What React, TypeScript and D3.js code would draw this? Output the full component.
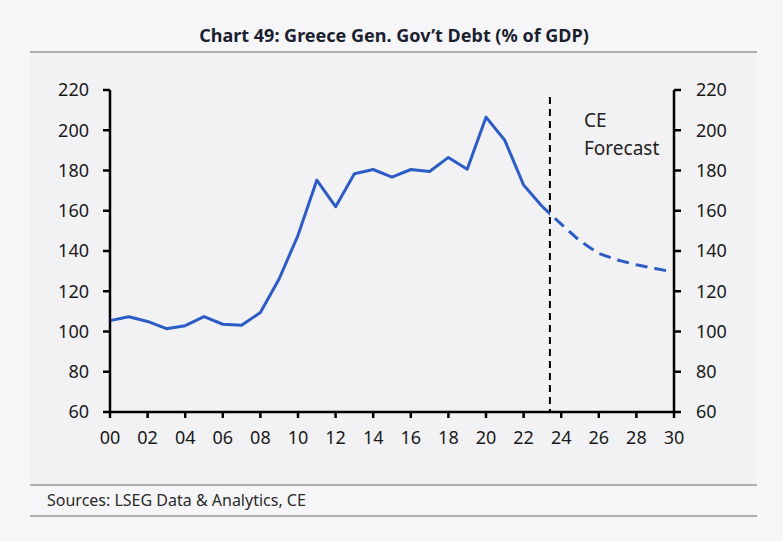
import React from "react";
import * as d3 from "d3";

const actualYears = [2000, 2001, 2002, 2003, 2004, 2005, 2006, 2007, 2008, 2009, 2010, 2011, 2012, 2013, 2014, 2015, 2016, 2017, 2018, 2019, 2020, 2021, 2022, 2023];
const actualValues = [105.4, 107.3, 105.0, 101.4, 102.9, 107.4, 103.6, 103.1, 109.4, 126.2, 147.8, 175.2, 162.0, 178.4, 180.5, 176.7, 180.5, 179.5, 186.5, 180.6, 206.5, 195.0, 172.8, 162.0];
const forecastYears = [2023, 2024, 2025, 2026, 2027, 2028, 2029, 2030];
const forecastValues = [162.0, 153.4, 145.0, 138.8, 135.5, 133.2, 131.3, 129.5];
const forecastStart = 2023.4;
const xTicks = [2000, 2002, 2004, 2006, 2008, 2010, 2012, 2014, 2016, 2018, 2020, 2022, 2024, 2026, 2028, 2030];
const yTicks = [60, 80, 100, 120, 140, 160, 180, 200, 220];
const title = "Chart 49: Greece Gen. Gov’t Debt (% of GDP)";
const source = "Sources: LSEG Data & Analytics, CE";
const annotation = ["CE", "Forecast"];

const W = 783;
const H = 541;
const M = { left: 110, right: 674, top: 90, bottom: 412 };
const FONT = "'Noto Sans', 'Open Sans', sans-serif";
const BLUE = "#2c5cc5";

export default function App() {
  const x = d3.scaleLinear().domain([2000, 2030]).range([M.left, M.right]);
  const y = d3.scaleLinear().domain([60, 220]).range([M.bottom, M.top]);
  const line = d3
    .line<[number, number]>()
    .x((d) => x(d[0]))
    .y((d) => y(d[1]));
  const actual = actualYears.map((yr, i) => [yr, actualValues[i]] as [number, number]);
  const forecast = forecastYears.map((yr, i) => [yr, forecastValues[i]] as [number, number]);
  const xm = x(forecastStart);

  return (
    <svg
      width={W}
      height={H}
      style={{ position: "absolute", left: 0, top: 0, display: "block" }}
      fontFamily={FONT}
    >
      <defs>
        <clipPath id="clipActual">
          <rect x={0} y={0} width={xm} height={H} />
        </clipPath>
        <clipPath id="clipForecast">
          <rect x={xm} y={0} width={W - xm} height={H} />
        </clipPath>
      </defs>
      <rect x={0} y={0} width={W} height={H} fill="#f6f6f8" />
      <rect x={30} y={52} width={727} height={433} fill="#f2f2f4" />
      <text x={394} y={42} textAnchor="middle" fontSize={18} fontWeight={700} fill="#1b1f30">
        {title}
      </text>
      <line x1={30} x2={757} y1={52} y2={52} stroke="#6b6b6f" strokeWidth={1.2} />
      <line x1={30} x2={757} y1={485} y2={485} stroke="#6b6b6f" strokeWidth={1.2} />
      <line x1={30} x2={757} y1={516} y2={516} stroke="#6b6b6f" strokeWidth={1.2} />
      <text x={47} y={506} fontSize={16} fill="#2a2a2a">
        {source}
      </text>

      {/* forecast marker */}
      <line x1={xm} x2={xm} y1={97} y2={M.bottom} stroke="#000" strokeWidth={2} strokeDasharray="7 5" />
      <text x={584} y={127} fontSize={19} fill="#222">
        {annotation[0]}
      </text>
      <text x={584} y={155} fontSize={19} fill="#222">
        {annotation[1]}
      </text>

      {/* lines */}
      <path d={line(actual) || ""} fill="none" stroke={BLUE} strokeWidth={3} strokeLinejoin="round" clipPath="url(#clipActual)" />
      <path d={line(forecast) || ""} fill="none" stroke={BLUE} strokeWidth={3} strokeLinejoin="round" clipPath="url(#clipActual)" />
      <path
        d={line(forecast) || ""}
        fill="none"
        stroke={BLUE}
        strokeWidth={3}
        strokeDasharray="12 7"
        strokeDashoffset={2}
        clipPath="url(#clipForecast)"
      />

      {/* axes */}
      <g stroke="#000" strokeWidth={2.5} fill="none">
        <line x1={M.left} x2={M.left} y1={M.top} y2={M.bottom} />
        <line x1={M.right} x2={M.right} y1={M.top} y2={M.bottom} />
        <line x1={M.left} x2={M.right} y1={M.bottom} y2={M.bottom} />
        {yTicks.map((t) => (
          <line key={"l" + t} x1={M.left - 7} x2={M.left} y1={y(t)} y2={y(t)} />
        ))}
        {yTicks.map((t) => (
          <line key={"r" + t} x1={M.right} x2={M.right + 7} y1={y(t)} y2={y(t)} />
        ))}
        {xTicks.map((t) => (
          <line key={"b" + t} x1={x(t)} x2={x(t)} y1={M.bottom} y2={M.bottom + 6} />
        ))}
      </g>
      <g fontSize={18} fill="#1a1a1a">
        {yTicks.map((t) => (
          <text key={"lt" + t} x={M.left - 21} y={y(t)} dy="0.35em" textAnchor="end">
            {t}
          </text>
        ))}
        {yTicks.map((t) => (
          <text key={"rt" + t} x={M.right + 22} y={y(t)} dy="0.35em" textAnchor="start">
            {t}
          </text>
        ))}
        {xTicks.map((t) => (
          <text key={"bt" + t} x={x(t)} y={M.bottom + 32} textAnchor="middle">
            {String(t % 100).padStart(2, "0")}
          </text>
        ))}
      </g>
    </svg>
  );
}
